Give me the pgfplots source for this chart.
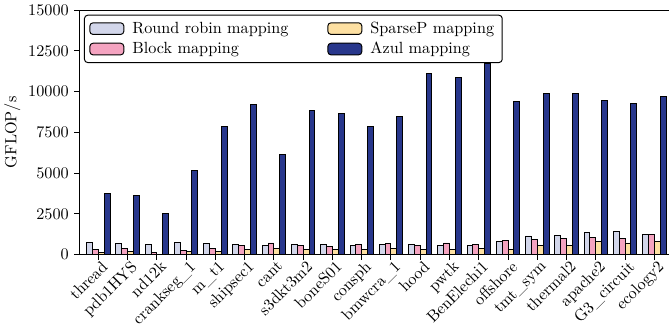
\documentclass[border=0pt]{standalone}
\usepackage{pgfplots}
\usepackage{pgfplotstable}
\pgfplotsset{compat=1.18}
\usetikzlibrary{calc}

\definecolor{rrcol}{HTML}{D2D6EA}
\definecolor{blkcol}{HTML}{F4A3C0}
\definecolor{spcol}{HTML}{FDE0A2}
\definecolor{azcol}{HTML}{28378C}

% GFLOP/s per matrix: round robin, block, SparseP, Azul
\pgfplotstableread{
x  rr    blk   sp   az
0  735   288   147  3750
1  698   367   165  3650
2  594   147   40   2550
3  759   257   165  5180
4  673   349   208  7880
5  612   576   330  9190
6  576   716   349  6170
7  594   533   330  8820
8  612   490   288  8650
9  551   637   330  7840
10 612   673   349  8500
11 594   551   330  11090
12 576   716   330  10850
13 551   637   349  11750
14 820   857   330  9370
15 1145  943   576  9900
16 1188  980   576  9900
17 1372  1041  820  9470
18 1433  1010  716  9270
19 1249  1249  820  9690
}\gflops

\begin{document}
\begin{tikzpicture}
\begin{axis}[
  scale only axis,
  width=364pt, height=151pt,
  ybar=0pt, bar width=0.2,
  xmin=-0.65, xmax=19.5,
  ymin=0, ymax=15000,
  ytick={0,2500,5000,7500,10000,12500,15000},
  scaled y ticks=false,
  yticklabel style={/pgf/number format/1000 sep={}},
  xtick={0,...,19},
  xticklabels={thread,pdb1HYS,nd12k,crankseg\_1,m\_t1,shipsec1,cant,s3dkt3m2,boneS01,consph,bmwcra\_1,hood,pwtk,BenElechi1,offshore,tmt\_sym,thermal2,apache2,G3\_circuit,ecology2},
  xticklabel style={rotate=45, anchor=north east, inner sep=1pt, xshift=2pt},
  tick align=outside, tick pos=left,
  major tick length=3pt,
  axis line style={line width=0.6pt},
  every tick/.style={black, line width=0.6pt},
  ylabel={GFLOP/s},
  ylabel shift=-2pt,
  every axis plot/.append style={draw=black, line width=0.6pt,
    legend image code/.code={\draw[##1] (0pt,-3.6pt) rectangle (21pt,3.6pt);}},
  legend columns=2, transpose legend,
  legend style={at={(0,1)}, anchor=north west, xshift=2.9pt, yshift=-2.9pt,
    draw=black, line width=0.6pt, rounded corners=2pt,
    inner xsep=3pt, inner ysep=2pt,
    /tikz/every odd column/.append style={column sep=3pt},
    /tikz/every even column/.append style={column sep=22pt},
    cells={anchor=west}},
]
\addplot[fill=rrcol] table[x=x, y=rr] {\gflops};
\addlegendentry{Round robin mapping}
\addplot[fill=blkcol] table[x=x, y=blk] {\gflops};
\addlegendentry{Block mapping}
\addplot[fill=spcol] table[x=x, y=sp] {\gflops};
\addlegendentry{SparseP mapping}
\addplot[fill=azcol] table[x=x, y=az] {\gflops};
\addlegendentry{Azul mapping}
\end{axis}
\pgfresetboundingbox
\path ($(current axis.south west)+(-48.95pt,-42.8pt)$) rectangle ($(current axis.north east)+(0pt,6.2pt)$);
\end{tikzpicture}
\end{document}
